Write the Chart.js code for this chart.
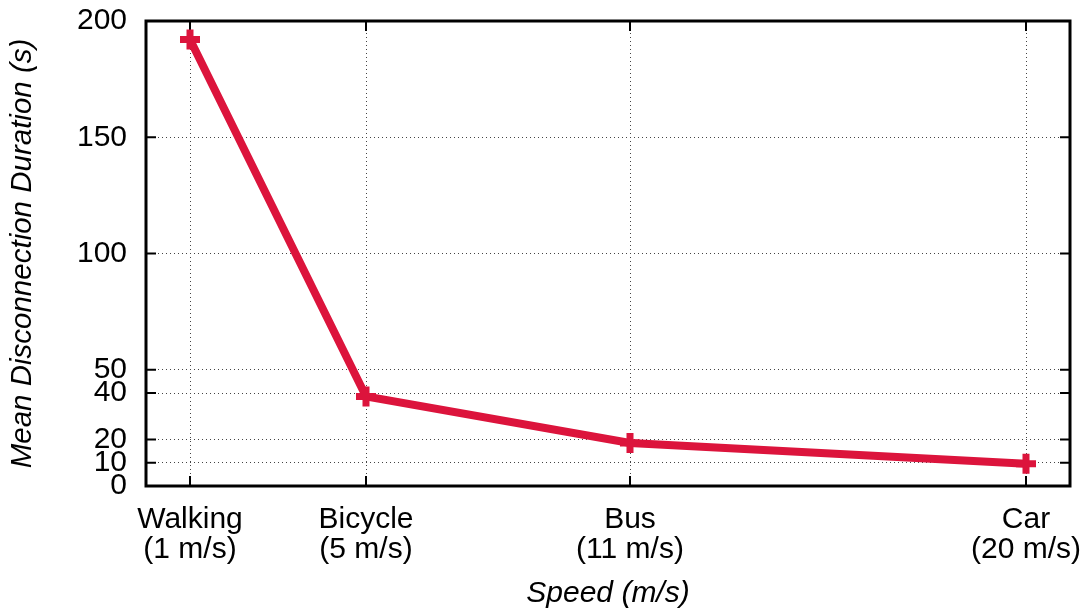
<!DOCTYPE html>
<html>
<head>
<meta charset="utf-8">
<script src="https://cdn.jsdelivr.net/npm/chart.js@4.4.1/dist/chart.umd.min.js"></script>
<style>
  body { margin: 0; background: #fff; }
</style>
</head>
<body>
<canvas id="myChart" width="1084" height="612"></canvas>
<script>
const speeds = [1, 5, 11, 20];
const modes = ['Walking', 'Bicycle', 'Bus', 'Car'];
const durations = [192, 38.5, 18.5, 9.6];
const yTicks = [0, 10, 20, 40, 50, 100, 150, 200];

document.addEventListener('DOMContentLoaded', function() {
    const ctx = document.getElementById('myChart');
    const font = 'Liberation Sans, Arial, Helvetica, sans-serif';

    // gnuplot style box with inward tick marks on all four sides
    const framePlugin = {
        id: 'frame',
        beforeDatasetsDraw(chart) {
            const c = chart.ctx, a = chart.chartArea;
            const x = chart.scales.x, y = chart.scales.y;
            c.save();
            c.setLineDash([]);
            c.strokeStyle = '#000';
            c.lineWidth = 2;
            c.beginPath();
            x.ticks.forEach(t => {
                const px = x.getPixelForValue(t.value);
                c.moveTo(px, a.bottom); c.lineTo(px, a.bottom - 10);
                c.moveTo(px, a.top); c.lineTo(px, a.top + 10);
            });
            y.ticks.forEach(t => {
                const py = y.getPixelForValue(t.value);
                c.moveTo(a.left, py); c.lineTo(a.left + 10, py);
                c.moveTo(a.right, py); c.lineTo(a.right - 10, py);
            });
            c.stroke();
            c.lineWidth = 3;
            c.strokeRect(a.left, a.top, a.right - a.left, a.bottom - a.top);
            c.restore();
        }
    };

    const config = {
        type: 'line',
        data: {
            datasets: [{
                data: speeds.map((s, i) => ({ x: s, y: durations[i] })),
                borderColor: '#dc143c',
                backgroundColor: '#dc143c',
                borderWidth: 8,
                pointStyle: 'cross',
                pointRadius: 10,
                pointBorderWidth: 7,
                tension: 0,
                fill: false,
                clip: false,
            }]
        },
        options: {
            responsive: false,
            animation: false,
            layout: { autoPadding: false, padding: { top: 21, right: 14, left: 0, bottom: 0 } },
            plugins: {
                legend: { display: false },
                tooltip: { enabled: false },
            },
            scales: {
                x: {
                    type: 'linear',
                    min: 0,
                    max: 21,
                    afterBuildTicks: s => { s.ticks = speeds.map(v => ({ value: v })); },
                    afterFit: s => { s.height = 126; s.paddingLeft = 0; s.paddingRight = 0; },
                    ticks: {
                        color: '#000',
                        font: { family: font, size: 30, lineHeight: 1.0 },
                        padding: 19,
                        maxRotation: 0,
                        autoSkip: false,
                        callback: (v, i) => [modes[i], '(' + speeds[i] + ' m/s)'],
                    },
                    grid: { color: '#444', lineWidth: 1, drawTicks: false },
                    border: { display: false, dash: [1, 3] },
                    title: {
                        display: true,
                        text: 'Speed (m/s)',
                        color: '#000',
                        font: { family: font, size: 30, style: 'italic' },
                        padding: { top: 4, bottom: 0 },
                    },
                },
                y: {
                    min: 0,
                    max: 200,
                    afterBuildTicks: s => { s.ticks = yTicks.map(v => ({ value: v })); },
                    afterFit: s => { s.width = 146; s.paddingTop = 0; s.paddingBottom = 0; },
                    ticks: {
                        color: '#000',
                        font: { family: font, size: 30 },
                        padding: 19,
                        autoSkip: false,
                    },
                    grid: { color: '#444', lineWidth: 1, drawTicks: false },
                    border: { display: false, dash: [1, 3] },
                    title: {
                        display: true,
                        text: 'Mean Disconnection Duration (s)',
                        color: '#000',
                        font: { family: font, size: 29.5, style: 'italic' },
                        padding: { top: 5, bottom: 4 },
                    },
                },
            },
        },
        plugins: [framePlugin],
    };

    new Chart(ctx, config);
});
</script>
</body>
</html>
